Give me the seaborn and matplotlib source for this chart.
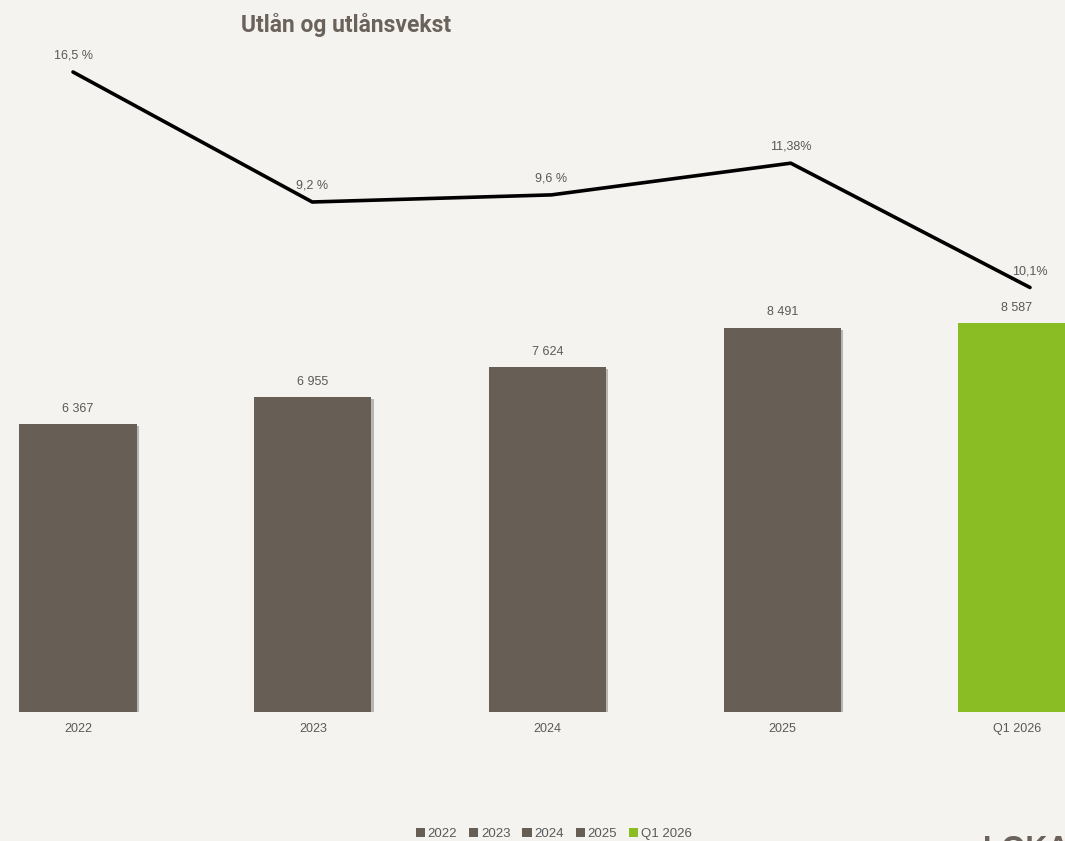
import matplotlib
matplotlib.use("Agg")
import matplotlib.pyplot as plt
import matplotlib.patheffects as pe
import numpy as np
import seaborn as sns

# Data
categories = ["2022", "2023", "2024", "2025", "Q1 2026"]
loans = [6367, 6955, 7624, 8491, 8587]
loan_labels = ["6 367", "6 955", "7 624", "8 491", "8 587"]
growth = [16.5, 9.2, 9.6, 11.38, 4.4]
growth_labels = ["16,5 %", "9,2 %", "9,6 %", "11,38%", "10,1%"]

bg = "#F5F3EF"
brown = "#675E55"
green = "#8ABD24"
bar_colors = [brown, brown, brown, brown, green]
txt = "#595959"

sns.set_theme(style="white")
plt.rcParams["font.family"] = ["Liberation Sans", "DejaVu Sans"]

fig = plt.figure(figsize=(10.65, 8.41), dpi=100, facecolor=bg)
rect = [0, 129 / 841, 1, 712 / 841]
ax = fig.add_axes(rect)
ax.set_facecolor(bg)

sns.barplot(x=categories, y=loans, hue=categories, palette=bar_colors,
            width=0.5, dodge=False, ax=ax, legend=True, saturation=1,
            linewidth=0)
for p in ax.patches:
    p.set_path_effects([pe.SimplePatchShadow(offset=(1.5, -1.5), shadow_rgbFace="#444444", alpha=0.35),
                        pe.Normal()])
for i, (v, lab) in enumerate(zip(loans, loan_labels)):
    ax.annotate(lab, (i, v), xytext=(0, 6.5), textcoords="offset points",
                ha="center", va="bottom", fontsize=9, color=txt)

ax.set_xlim(-78 / 234.75, (1065 - 78) / 234.75)
ax.set_ylim(0, 712 / 0.04528)
ax.set_yticks([])
ax.set_xlabel("")
ax.set_ylabel("")
ax.tick_params(axis="x", length=0, labelsize=9, labelcolor=txt, pad=8)
for s in ax.spines.values():
    s.set_visible(False)

sns.move_legend(ax, "lower center", bbox_to_anchor=(0.52, -0.197), ncol=5,
                frameon=False, title=None, fontsize=9.5, handlelength=0.7,
                handleheight=0.7, handletextpad=0.2, columnspacing=0.9,
                labelcolor=txt)

# growth line on its own scale
ax2 = fig.add_axes(rect)
ax2.patch.set_visible(False)
x_line = np.arange(len(growth))
sns.lineplot(x=x_line, y=growth, color="black", linewidth=2.6, ax=ax2)
for i, (v, lab) in enumerate(zip(growth, growth_labels)):
    ax2.annotate(lab, (i, v), xytext=(0, 7.5), textcoords="offset points",
                 ha="center", va="bottom", fontsize=9, color=txt)
ax2.set_xlim(-73 / 239.25, (1065 - 73) / 239.25)
ax2.set_ylim(9.2 - (712 - 202) / 17.81, 9.2 + 202 / 17.81)
ax2.axis("off")

fig.text(346 / 1065, 1 - 25 / 841, "Utlån og utlånsvekst", ha="center", va="center",
         fontsize=16.5, fontweight="bold", color="#6B635B", family=["Roboto", "DejaVu Sans"])
fig.text(983 / 1065, 1 - 835 / 841, "LOKALBANK", ha="left", va="top",
         fontsize=22, fontweight="bold", color="#6B635B")

fig.savefig("out.png", dpi=100, facecolor=bg)
